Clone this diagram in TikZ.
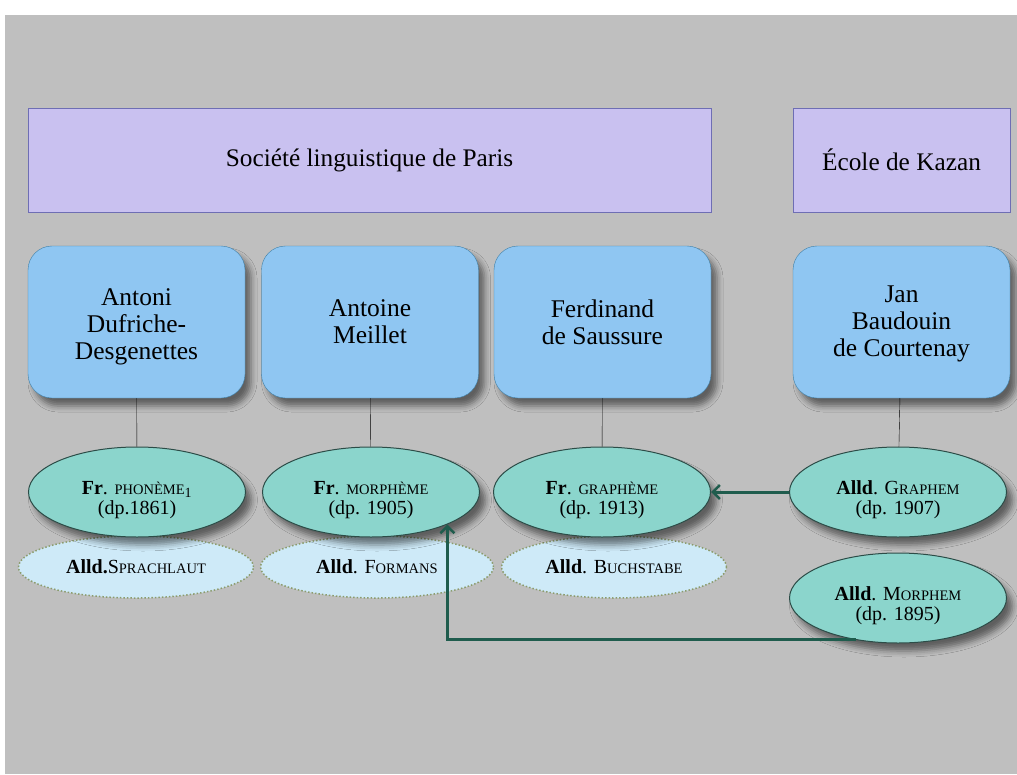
\documentclass[tikz,border=0pt]{standalone}
\usepackage{fontspec}
\setmainfont{Liberation Serif}
\usetikzlibrary{shapes.geometric, shadows.blur, arrows.meta}

\definecolor{bggray}{HTML}{BFBFBF}
\definecolor{purplefill}{HTML}{C9C1F0}
\definecolor{purpleline}{HTML}{6E6EB4}
\definecolor{bluefill}{HTML}{8FC6F2}
\definecolor{blueline}{HTML}{3F7FA6}
\definecolor{tealfill}{HTML}{8BD5CC}
\definecolor{tealline}{HTML}{2C4C47}
\definecolor{lightfill}{HTML}{CEEAF8}
\definecolor{dotline}{HTML}{8C9C6E}
\definecolor{arrowgreen}{HTML}{1F5C4D}

% small capitals, faked with a smaller size
\newcommand{\smc}[1]{{\fontsize{14.5}{23}\selectfont #1}}
% two lines of a term, set a little lower in the ellipse
\newcommand{\termtext}[2]{\raisebox{-8pt}[\height][\depth]{\begin{tabular}{@{}c@{}}#1\\[-3pt]#2\end{tabular}}}

\tikzset{
  society/.style={rectangle, draw=purpleline, fill=purplefill, minimum height=104pt,
    font=\fontsize{25.3}{28}\selectfont},
  person/.style={rectangle, rounded corners=24pt, draw=blueline, fill=bluefill,
    minimum width=217pt, minimum height=152pt, align=center,
    font=\fontsize{25.5}{27}\selectfont,
    blur shadow={shadow xshift=6pt, shadow yshift=-8pt, shadow blur radius=6pt, shadow opacity=50}},
  term/.style={ellipse, draw=tealline, line width=1pt, fill=tealfill,
    minimum width=217pt, minimum height=90pt, inner sep=1pt,
    font=\fontsize{20}{23}\selectfont,
    blur shadow={shadow xshift=6pt, shadow yshift=-8pt, shadow blur radius=6pt, shadow opacity=50}},
  variant/.style={ellipse, draw=dotline, dotted, line width=1.5pt, fill=lightfill,
    minimum height=62pt, inner sep=1pt, font=\fontsize{20}{23}\selectfont},
  link/.style={-{Straight Barb[length=7pt, width=14pt, line width=2.5pt]}, draw=arrowgreen, line width=3pt}
}

\begin{document}
\begin{tikzpicture}[x=1pt, y=-1pt]
        % the page and its background
        \useasboundingbox (0,0) rectangle (1017,774);
        \fill[white] (0,0) rectangle (1017,774);
        \fill[bggray] (5,15) rectangle (1017,774);

        % the two schools
        \node[society, minimum width=683pt] (paris) at (369.5,160) {Société linguistique de Paris};
        \node[society, minimum width=217pt] (kazan) at (901.5,160) {École de Kazan};

        % the linguists
        \node[person] (dufriche) at (136.5,322) {\raisebox{-5pt}[\height][\depth]{\begin{tabular}{@{}c@{}}Antoni\\Dufriche-\\Desgenettes\end{tabular}}};
        \node[person] (meillet) at (370,322) {Antoine\\Meillet};
        \node[person] (saussure) at (602.5,322) {Ferdinand\\de Saussure};
        \node[person] (baudouin) at (901.5,322) {\raisebox{-2pt}[\height][\depth]{\begin{tabular}{@{}c@{}}Jan\\Baudouin\\de Courtenay\end{tabular}}};

        % the terms (variants first, so the terms lie over them)
        \node[variant, minimum width=235pt] (sprachlaut) at (136,567) {\textbf{Alld.}S\smc{PRACHLAUT}};
        \node[variant, minimum width=233pt] (formans) at (377,567) {\textbf{Alld}. F\smc{ORMANS}};
        \node[variant, minimum width=225pt] (buchstabe) at (614,567) {\textbf{Alld}. B\smc{UCHSTABE}};

        \node[term] (phoneme) at (137,492) {\termtext{\textbf{Fr}. \smc{PHONÈME}\textsubscript{1}}{(dp.1861)}};
        \node[term] (morpheme) at (371,492) {\termtext{\textbf{Fr}. \smc{MORPHÈME}}{(dp. 1905)}};
        \node[term] (grapheme) at (602,492) {\termtext{\textbf{Fr}. \smc{GRAPHÈME}}{(dp. 1913)}};
        \node[term] (graphem) at (898,492) {\termtext{\textbf{Alld}. G\smc{RAPHEM}}{(dp. 1907)}};
        \node[term] (morphem) at (898,598) {\termtext{\textbf{Alld}. M\smc{ORPHEM}}{(dp. 1895)}};

        % the lines from the linguists to their terms
        \draw (dufriche) -- (phoneme);
        \draw (meillet) -- (morpheme);
        \draw (saussure) -- (grapheme);
        \draw (baudouin) -- (graphem);

        % the borrowings
        \draw[link] (graphem) -- (grapheme);
        \draw[link] (morphem.-135) -| (morpheme.-23);
    \end{tikzpicture}
\end{document}
